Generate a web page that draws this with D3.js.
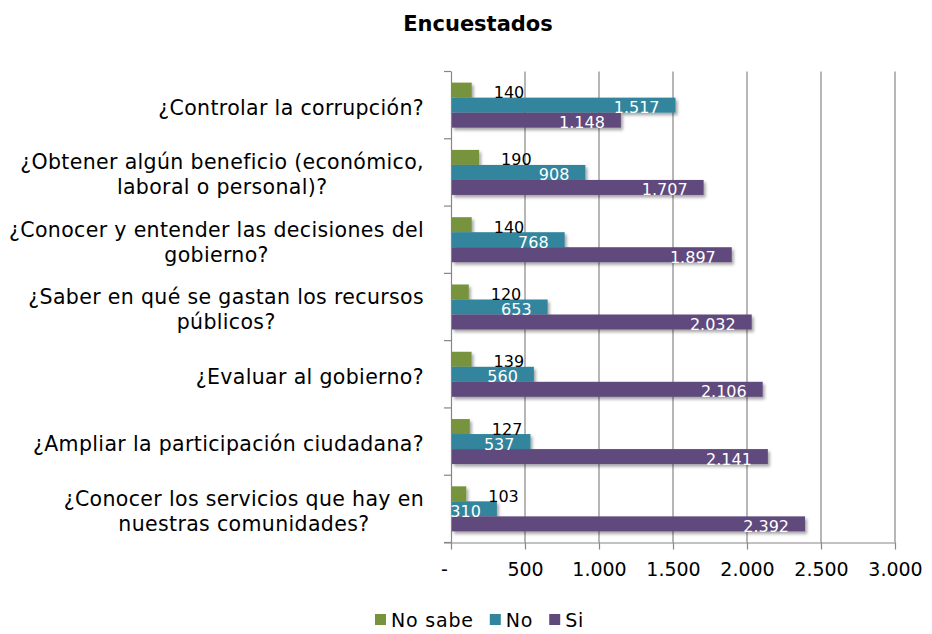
<!DOCTYPE html>
<html>
<head>
<meta charset="utf-8">
<script src="https://cdn.jsdelivr.net/npm/d3@7"></script>
<style>
  html, body { margin: 0; padding: 0; background: #fff; }
  svg { display: block; font-family: "DejaVu Sans", sans-serif; }
</style>
</head>
<body>
<svg id="chart" width="932" height="634"></svg>
<script>
// ---- Data ----
const categories = [
  "¿Controlar la corrupción?",
  "¿Obtener algún beneficio (económico,\nlaboral o personal)?",
  "¿Conocer y entender las decisiones del\ngobierno?",
  "¿Saber en qué se gastan los recursos\npúblicos?",
  "¿Evaluar al gobierno?",
  "¿Ampliar la participación ciudadana?",
  "¿Conocer los servicios que hay en\nnuestras comunidades?"
];
const seriesNames = ["No sabe", "No", "Si"];
const noSabe = [140, 190, 140, 120, 139, 127, 103];
const no     = [1517, 908, 768, 653, 560, 537, 310];
const si     = [1148, 1707, 1897, 2032, 2106, 2141, 2392];
const xTicks = [0, 500, 1000, 1500, 2000, 2500, 3000];
const title = "Encuestados";

const seriesValues = [noSabe, no, si];
const colors = ["#77933C", "#31859C", "#604A7B"];

// ---- Layout ----
const svg = d3.select("#chart");
const pLeft = 451, pRight = 895, pTop = 71.5, pBottom = 542.5;

const locale = d3.formatLocale({ decimal: ",", thousands: ".", grouping: [3], currency: ["$", ""] });
const fmt = locale.format(",d");

const x = d3.scaleLinear().domain([0, 3000]).range([pLeft, pRight]);
const y = d3.scaleBand().domain(categories).range([pTop, pBottom]).paddingInner(0).paddingOuter(0);
const ySub = d3.scaleBand().domain(seriesNames).range([0, y.bandwidth()]).paddingInner(0).paddingOuter(0.74);

// shadow filter
const defs = svg.append("defs");
const f = defs.append("filter").attr("id", "shadow").attr("x", "-10%").attr("y", "-50%").attr("width", "130%").attr("height", "250%");
f.append("feDropShadow").attr("dx", 2).attr("dy", 2.5).attr("stdDeviation", 1.6)
  .attr("flood-color", "#000").attr("flood-opacity", 0.35);

// title
svg.append("text").attr("x", 478).attr("y", 31).attr("text-anchor", "middle")
  .attr("font-size", 21).attr("font-weight", "bold").attr("fill", "#000").text(title);

// gridlines
svg.append("g").selectAll("line").data(xTicks.filter(d => d > 0)).join("line")
  .attr("x1", d => x(d)).attr("x2", d => x(d)).attr("y1", pTop).attr("y2", pBottom)
  .attr("stroke", "#868686").attr("stroke-width", 1.2);

// x axis
const xAxis = d3.axisBottom(x).tickValues(xTicks).tickSize(7).tickPadding(13)
  .tickFormat(d => d === 0 ? "-" : fmt(d));
const gx = svg.append("g").attr("transform", `translate(0,${pBottom})`).call(xAxis);
gx.select(".domain").attr("d", `M${pLeft - 7},0.5H${pRight}`).attr("stroke", "#868686").attr("stroke-width", 1.2);
gx.selectAll(".tick line").attr("stroke", "#868686").attr("stroke-width", 1.2);
gx.selectAll(".tick text").attr("font-size", 19).attr("fill", "#000").attr("font-family", "DejaVu Sans");
gx.selectAll(".tick text").filter(d => d === 0).attr("dx", -7);

// y axis
const yAxis = d3.axisLeft(y).tickSize(0).tickFormat("");
const gy = svg.append("g").attr("transform", `translate(${pLeft},0)`).call(yAxis);
gy.select(".domain").attr("d", `M0.5,${pTop}V${pBottom}`).attr("stroke", "#868686").attr("stroke-width", 1.2);
// category boundary ticks
svg.append("g").selectAll("line").data(d3.range(categories.length + 1)).join("line")
  .attr("x1", pLeft - 7).attr("x2", pLeft)
  .attr("y1", i => pTop + i * y.step()).attr("y2", i => pTop + i * y.step())
  .attr("stroke", "#868686").attr("stroke-width", 1.2);

// category labels
const labelRight = 424;
const lineH = 25;
categories.forEach(c => {
  const lines = c.split("\n");
  const t = svg.append("text").attr("font-size", 20.5).attr("letter-spacing", 0.35)
    .attr("fill", "#000").attr("text-anchor", "middle");
  const cy = y(c) + y.bandwidth() / 2 + 2.5;
  const firstBase = cy + 7 - (lines.length - 1) * lineH / 2;
  const spans = lines.map((ln, i) => t.append("tspan").attr("y", firstBase + i * lineH).text(ln));
  const maxW = d3.max(spans, s => s.node().getComputedTextLength());
  spans.forEach(s => s.attr("x", labelRight - maxW / 2));
});

// bars
const barsG = svg.append("g");
seriesNames.forEach((s, si_) => {
  barsG.append("g").attr("filter", "url(#shadow)").selectAll("rect")
    .data(categories.map((c, i) => ({ c, v: seriesValues[si_][i] })))
    .join("rect")
    .attr("x", x(0) + 1).attr("y", d => y(d.c) + ySub(s))
    .attr("width", d => x(d.v) - x(0) - 1).attr("height", ySub.bandwidth())
    .attr("fill", colors[si_]);
});

// data labels
const labG = svg.append("g").attr("font-size", 16);
seriesNames.forEach((s, si_) => {
  labG.selectAll(null)
    .data(categories.map((c, i) => ({ c, v: seriesValues[si_][i] })))
    .join("text")
    .attr("x", d => si_ === 0 ? x(d.v) + 22 : x(d.v) - 16)
    .attr("y", d => y(d.c) + ySub(s) + ySub.bandwidth() + 0.5)
    .attr("text-anchor", si_ === 0 ? "start" : "end")
    .attr("fill", si_ === 0 ? "#000" : "#fff")
    .text(d => fmt(d.v));
});

// legend
const legG = svg.append("g").attr("font-size", 19).attr("letter-spacing", 0.8);
let lx = 375;
seriesNames.forEach((s, i) => {
  legG.append("rect").attr("x", lx).attr("y", 614).attr("width", 11).attr("height", 11).attr("fill", colors[i]);
  const t = legG.append("text").attr("x", lx + 16).attr("y", 627).attr("fill", "#000").text(s);
  lx += 16 + t.node().getComputedTextLength() + 16;
});
</script>
</body>
</html>
